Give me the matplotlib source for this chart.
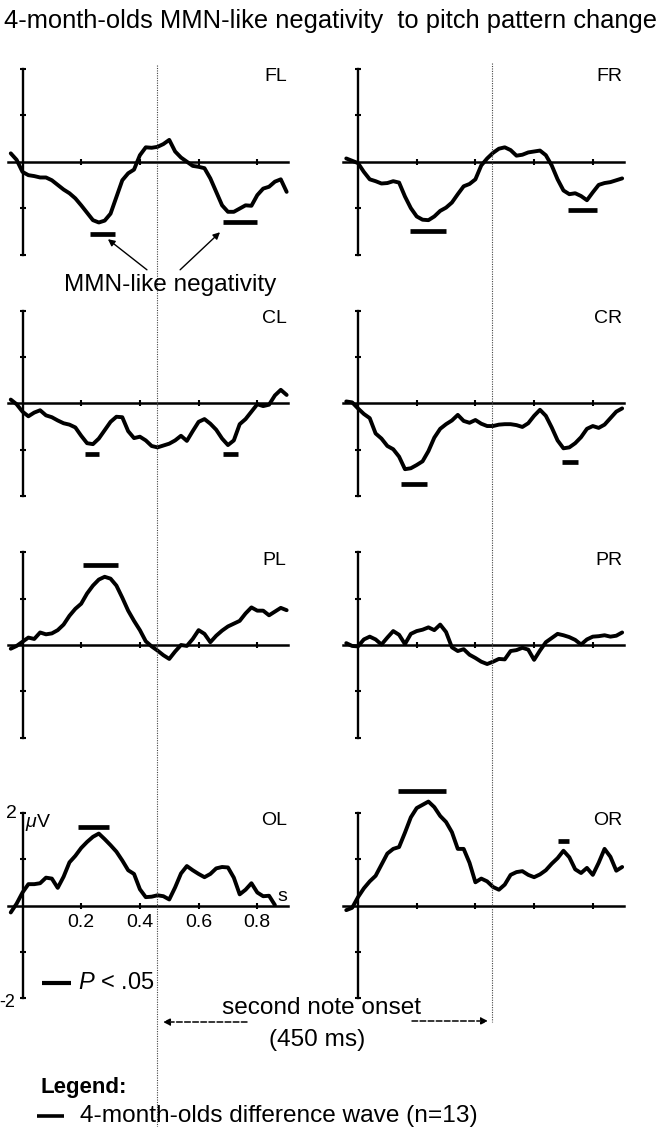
import numpy as np
import matplotlib
matplotlib.use("Agg")
import matplotlib.pyplot as plt
from matplotlib.lines import Line2D
from matplotlib.transforms import blended_transform_factory

plt.rcParams['font.family'] = ['Liberation Sans', 'DejaVu Sans']
plt.rcParams['mathtext.fontset'] = 'custom'
plt.rcParams['mathtext.it'] = 'Liberation Sans:italic'
plt.rcParams['mathtext.rm'] = 'Liberation Sans'

# time grid (s), one reading every 20 ms
t = np.round(np.arange(-0.04, 0.901, 0.02), 2)

# difference waves (µV)
fl = [0.18, 0.04, -0.22, -0.29, -0.31, -0.34, -0.34, -0.40, -0.50, -0.60,
      -0.68, -0.79, -0.94, -1.10, -1.26, -1.31, -1.27, -1.12, -0.76, -0.40,
      -0.25, -0.17, 0.14, 0.31, 0.30, 0.32, 0.38, 0.47, 0.22, 0.09,
      0.00, -0.09, -0.11, -0.14, -0.36, -0.65, -0.94, -1.08, -1.08, -1.01,
      -0.94, -0.95, -0.72, -0.58, -0.54, -0.43, -0.38, -0.65]
fr = [0.07, 0.02, -0.03, -0.22, -0.38, -0.42, -0.47, -0.46, -0.42, -0.45,
      -0.75, -1.00, -1.18, -1.25, -1.26, -1.18, -1.06, -0.99, -0.88, -0.70,
      -0.53, -0.48, -0.38, -0.08, 0.07, 0.19, 0.28, 0.31, 0.25, 0.13,
      0.15, 0.20, 0.22, 0.24, 0.14, -0.08, -0.38, -0.62, -0.70, -0.68,
      -0.74, -0.83, -0.66, -0.50, -0.46, -0.44, -0.40, -0.36]
cl = [0.08, -0.02, -0.18, -0.28, -0.20, -0.15, -0.26, -0.30, -0.37, -0.43,
      -0.46, -0.52, -0.70, -0.86, -0.88, -0.76, -0.58, -0.40, -0.29, -0.30,
      -0.60, -0.75, -0.72, -0.80, -0.92, -0.95, -0.91, -0.87, -0.80, -0.70,
      -0.81, -0.60, -0.40, -0.34, -0.44, -0.57, -0.76, -0.90, -0.80, -0.45,
      -0.34, -0.18, -0.02, -0.06, -0.03, 0.17, 0.29, 0.18]
cr = [0.04, 0.02, -0.11, -0.23, -0.32, -0.65, -0.76, -0.92, -0.99, -1.15,
      -1.42, -1.40, -1.33, -1.25, -1.03, -0.74, -0.55, -0.45, -0.37, -0.25,
      -0.38, -0.42, -0.36, -0.44, -0.49, -0.49, -0.46, -0.45, -0.45, -0.47,
      -0.51, -0.43, -0.27, -0.14, -0.27, -0.52, -0.80, -0.97, -0.95, -0.86,
      -0.73, -0.55, -0.49, -0.53, -0.46, -0.32, -0.18, -0.11]
pl = [-0.08, -0.02, 0.07, 0.16, 0.13, 0.27, 0.23, 0.25, 0.32, 0.44,
      0.63, 0.78, 0.89, 1.11, 1.28, 1.41, 1.47, 1.43, 1.28, 1.02,
      0.74, 0.52, 0.32, 0.08, -0.03, -0.12, -0.22, -0.30, -0.14, 0.00,
      -0.02, 0.13, 0.32, 0.24, 0.06, 0.20, 0.31, 0.40, 0.46, 0.52,
      0.68, 0.81, 0.74, 0.74, 0.64, 0.72, 0.80, 0.75]
pr = [0.04, -0.02, -0.03, 0.12, 0.18, 0.12, 0.01, 0.16, 0.30, 0.22,
      0.02, 0.24, 0.30, 0.33, 0.38, 0.32, 0.44, 0.28, -0.05, -0.13,
      -0.09, -0.21, -0.28, -0.36, -0.41, -0.36, -0.30, -0.31, -0.13, -0.11,
      -0.06, -0.10, -0.32, -0.12, 0.06, 0.15, 0.24, 0.21, 0.17, 0.11,
      0.01, 0.12, 0.18, 0.19, 0.21, 0.18, 0.20, 0.27]
ol = [-0.15, 0.04, 0.28, 0.46, 0.46, 0.48, 0.60, 0.58, 0.38, 0.62,
      0.93, 1.07, 1.24, 1.37, 1.48, 1.55, 1.43, 1.30, 1.16, 0.97,
      0.76, 0.68, 0.35, 0.18, 0.19, 0.22, 0.20, 0.13, 0.39, 0.69,
      0.85, 0.76, 0.68, 0.61, 0.68, 0.80, 0.83, 0.82, 0.60, 0.24,
      0.34, 0.48, 0.28, 0.20, 0.21, 0.01, np.nan, np.nan]
orr = [-0.10, -0.05, 0.18, 0.37, 0.52, 0.64, 0.88, 1.12, 1.22, 1.26,
       1.57, 1.90, 2.10, 2.17, 2.24, 2.12, 1.93, 1.80, 1.58, 1.22,
       1.22, 0.92, 0.50, 0.58, 0.52, 0.40, 0.34, 0.45, 0.66, 0.72,
       0.74, 0.66, 0.61, 0.67, 0.76, 0.90, 1.02, 1.18, 1.04, 0.78,
       0.70, 0.81, 0.66, 0.92, 1.22, 1.05, 0.75, 0.83]

# significant windows: (start s, end s, level µV)
fl_sig = [(0.23, 0.315, -1.55), (0.682, 0.80, -1.29)]
fr_sig = [(0.177, 0.30, -1.50), (0.717, 0.813, -1.04)]
cl_sig = [(0.213, 0.262, -1.10), (0.684, 0.735, -1.10)]
cr_sig = [(0.147, 0.234, -1.73), (0.696, 0.751, -1.27)]
pl_sig = [(0.207, 0.327, 1.73)]
pr_sig = []
ol_sig = [(0.19, 0.296, 1.70)]
or_sig = [(0.137, 0.30, 2.46), (0.68, 0.72, 1.38)]

names = ['FL', 'FR', 'CL', 'CR', 'PL', 'PR', 'OL', 'OR']
waves = [fl, fr, cl, cr, pl, pr, ol, orr]
sigs = [fl_sig, fr_sig, cl_sig, cr_sig, pl_sig, pr_sig, ol_sig, or_sig]
onset = 0.457

W, H = 661, 1127
PX_S, PX_UV = 293.5, 46.4
XLIM, YLIM = (-0.07, 0.93), (-2.6, 2.8)
col_x0 = [22.5, 358]
row_zero = [161.7, 403.3, 645, 905.5]


def fx(x):
    return x / W


def fy(y):
    return 1 - y / H


fig = plt.figure(figsize=(W / 100, H / 100), dpi=100)

axes = []
for i, name in enumerate(names):
    x0 = col_x0[i % 2]
    zero = row_zero[i // 2]
    left = x0 + XLIM[0] * PX_S
    width = (XLIM[1] - XLIM[0]) * PX_S
    top = zero - YLIM[1] * PX_UV
    height = (YLIM[1] - YLIM[0]) * PX_UV
    ax = fig.add_axes([left / W, 1 - (top + height) / H, width / W, height / H])
    ax.set_xlim(XLIM)
    ax.set_ylim(YLIM)
    ax.patch.set_visible(False)
    for s in ['top', 'right']:
        ax.spines[s].set_visible(False)
    ax.spines['left'].set_position(('data', 0))
    ax.spines['left'].set_bounds(-2, 2)
    ax.spines['left'].set_linewidth(1.7)
    ax.spines['bottom'].set_position(('data', 0))
    ax.spines['bottom'].set_bounds(-0.05, 0.905)
    ax.spines['bottom'].set_linewidth(1.8)
    ax.set_xticks([0.2, 0.4, 0.6, 0.8])
    ax.set_yticks([-2, -1, 1, 2])
    ax.tick_params(direction='inout', length=5, width=1.5,
                   labelbottom=False, labelleft=False)

    ax.plot(t, waves[i], color='black', lw=2.8, solid_joinstyle='round',
            solid_capstyle='round', clip_on=False)
    for a, b, lev in sigs[i]:
        ax.hlines(lev, a, b, color='black', lw=3.4, capstyle='butt')
    ax.text(0.90, 1.83, name, ha='right', va='center', fontsize=14)
    axes.append(ax)

# scale labels on OL
ax_ol = axes[6]
ax_ol.tick_params(axis='x', labelbottom=True, labelsize=14, pad=3.5)
ax_ol.set_xticklabels(['0.2', '0.4', '0.6', '0.8'])
ax_ol.text(-0.019, 1.98, '2', ha='right', va='center', fontsize=14)
ax_ol.text(0.009, 1.70, r'$\mu$V', ha='left', va='baseline', fontsize=14)
ax_ol.text(0.885, 0.20, 's', ha='center', va='center', fontsize=14)
ax_ol.text(-0.025, -2.08, '-2', ha='right', va='center', fontsize=13)

# second note onset lines
for ax, y_top, y_bot in [(axes[0], 65, H), (axes[1], 63, 1022)]:
    tr = blended_transform_factory(ax.transData, fig.transFigure)
    fig.add_artist(Line2D([onset, onset], [fy(y_top), fy(y_bot)], transform=tr,
                          color='#444444', lw=0.8, ls=(0, (1, 1.2))))

# MMN arrows
ax_fl = axes[0]
arr = dict(arrowstyle='-|>', color='black', lw=1.0, mutation_scale=10,
           shrinkA=0, shrinkB=0)
ax_fl.annotate('', xy=(0.291, -1.67), xytext=(0.424, -2.33), arrowprops=arr,
               annotation_clip=False)
ax_fl.annotate('', xy=(0.673, -1.52), xytext=(0.537, -2.33), arrowprops=arr,
               annotation_clip=False)
fig.text(fx(170), fy(291), 'MMN-like negativity', ha='center', va='baseline',
         fontsize=17.6)

# title
fig.text(0.5, fy(21), '4-month-olds MMN-like negativity  to pitch pattern change',
         ha='center', va='center', fontsize=18.4)

# significance key
fig.add_artist(Line2D([fx(42), fx(71)], [fy(983), fy(983)], color='black', lw=3.0,
                      solid_capstyle='butt'))
fig.text(fx(78), fy(983), r'$P$ < .05', ha='left', va='center', fontsize=17)

# onset interval annotation
darr = dict(arrowstyle='-|>', color='black', lw=1.1, ls='--', mutation_scale=10,
            shrinkA=0, shrinkB=0)
fig.text(fx(321), fy(1008), 'second note onset', ha='center', va='center',
         fontsize=17.6)
fig.text(fx(317), fy(1040), '(450 ms)', ha='center', va='center', fontsize=17.6)
ax_fl.annotate('', xy=(fx(163), fy(1022)), xytext=(fx(247), fy(1022)),
               xycoords='figure fraction', textcoords='figure fraction',
               arrowprops=darr, annotation_clip=False)
ax_fl.annotate('', xy=(fx(488), fy(1021)), xytext=(fx(412), fy(1021)),
               xycoords='figure fraction', textcoords='figure fraction',
               arrowprops=darr, annotation_clip=False)

# legend
fig.text(fx(40), fy(1087), 'Legend:', ha='left', va='center', fontsize=16,
         fontweight='bold')
fig.add_artist(Line2D([fx(37), fx(64)], [fy(1116), fy(1116)], color='black', lw=2.6,
                      solid_capstyle='butt'))
fig.text(fx(80), fy(1116), '4-month-olds difference wave (n=13)', ha='left',
         va='center', fontsize=17.6)

fig.savefig('out.png', dpi=100)
